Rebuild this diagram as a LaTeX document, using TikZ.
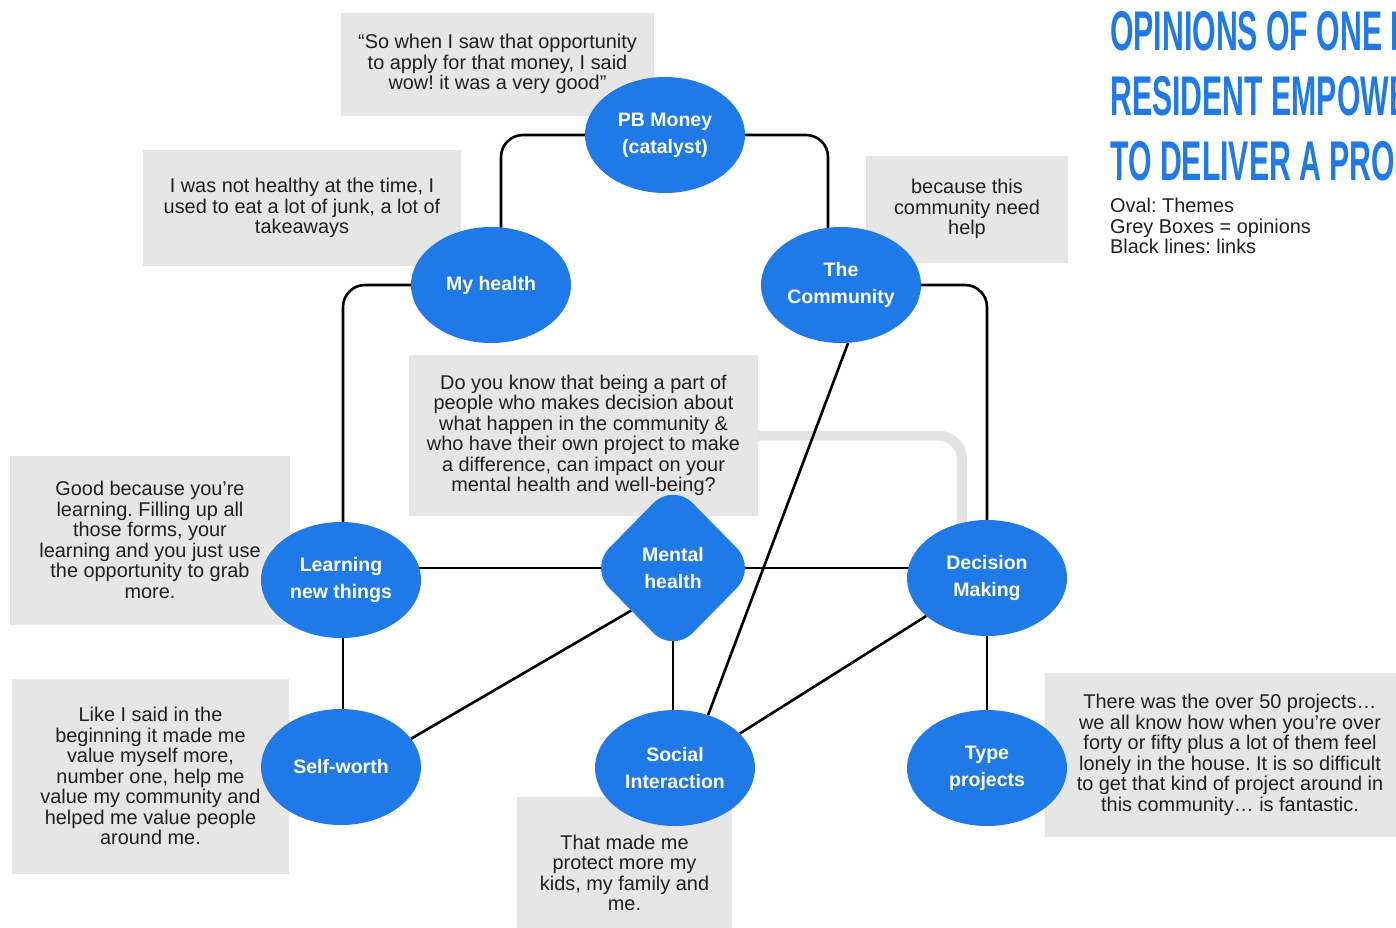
\documentclass[tikz,border=0pt]{standalone}
\usepackage{fontspec}
\setmainfont{Liberation Sans}
\newfontfamily\titlefont{Liberation Sans}[FakeStretch=0.54]
\usepackage{xcolor}
\usetikzlibrary{shapes.geometric}

\pgfdeclarelayer{background}
\pgfsetlayers{background,main}

\definecolor{themeblue}{RGB}{31,122,232}
\definecolor{boxgrey}{RGB}{230,230,230}
\definecolor{haloGrey}{RGB}{226,226,226}

\tikzset{
	theme/.style={ellipse, fill=themeblue, text=white, align=center, inner sep=0pt,
		minimum width=160pt, minimum height=116pt,
		font=\bfseries\fontsize{19.5}{27}\selectfont},
	opinion/.style={fill=boxgrey, text=black!88, align=center, inner sep=0pt,
		font=\fontsize{19.9}{20.5}\selectfont},
	link/.style={draw=black, line width=2.6pt, rounded corners=22pt},
	halo/.style={draw=haloGrey, line width=10pt, rounded corners=24pt}
}

\begin{document}
\frenchspacing
\begin{tikzpicture}[x=1pt,y=-1pt]
	\useasboundingbox (0,0) rectangle (1396,927);

	% opinions
	\node[opinion, minimum width=313pt, minimum height=103pt] (top_quote) at (497.5,64) {
		“So when I saw that opportunity\\ to apply for that money, I said\\ wow! it was a very good”
	};
	\node[opinion, minimum width=318pt, minimum height=116pt] (health_quote) at (302,208) {
		I was not healthy at the time, I\\ used to eat a lot of junk, a lot of\\ takeaways
	};
	\node[opinion, minimum width=202pt, minimum height=107pt] (community_quote) at (967,209) {
		because this\\ community need\\ help
	};
	\node[opinion, minimum width=349pt, minimum height=161pt] (mind_quote) at (583.5,435.5) {
		Do you know that being a part of\\ people who makes decision about\\ what happen in the community \&\\ who have their own project to make\\ a difference, can impact on your\\ mental health and well-being?
	};
	\node[opinion, minimum width=280pt, minimum height=169pt] (learning_quote) at (150,540) {
		Good because you’re\\ learning. Filling up all\\ those forms, your\\ learning and you just use\\ the opportunity to grab\\ more.
	};
	\node[opinion, minimum width=277pt, minimum height=195pt] (worth_quote) at (150.5,776) {
		Like I said in the\\ beginning it made me\\ value myself more,\\ number one, help me\\ value my community and\\ helped me value people\\ around me.
	};
	\node[opinion, minimum width=215pt, minimum height=152pt] (social_quote) at (624.5,873) {
		That made me\\ protect more my\\ kids, my family and\\ me.
	};
	\node[opinion, minimum width=370pt, minimum height=164pt] (type_quote) at (1230,755) {
		There was the over 50 projects…\\ we all know how when you’re over\\ forty or fifty plus a lot of them feel\\ lonely in the house. It is so difficult\\ to get that kind of project around in\\ this community… is fantastic.
	};

	% themes
	\node[theme] (pb_money) at (665,135) {PB Money\\ (catalyst)};
	\node[theme] (my_health) at (491,285) {My health};
	\node[theme] (community) at (841,285) {The\\ Community};
	\node[theme] (learning) at (341,580) {Learning\\ new things};
	\node[theme] (decision) at (987,578) {Decision\\ Making};
	\node[theme] (self_worth) at (341,767) {Self-worth};
	\node[theme] (social) at (675,768) {Social\\ Interaction};
	\node[theme] (type_projects) at (987,768) {Type\\ projects};
	\node[diamond, fill=themeblue, rounded corners=28pt, minimum width=167pt, minimum height=170pt,
		inner sep=0pt, text=white, align=center, font=\bfseries\fontsize{19.5}{27}\selectfont]
		(mental) at (673,568) {Mental\\ health};

	% links
	\begin{pgfonlayer}{background}
		\draw[halo] (mind_quote.east) -| ([xshift=-25pt]decision.center);
		\draw[link] (pb_money.west) -| ([xshift=10pt]my_health.center);
		\draw[link] (pb_money.east) -| ([xshift=-13pt]community.center);
		\draw[link] (my_health.west) -| ([xshift=2pt]learning.center);
		\draw[link] (community.east) -| (decision.center);
		\draw[link] (learning.center |- mental.center) -- (decision.center |- mental.center);
		\draw[link] ([xshift=2pt]learning.center) -- ([xshift=2pt]self_worth.center);
		\draw[link] (self_worth.22) -- (mental.south west);
		\draw[link] (mental.center) -- (mental.center |- social.center);
		\draw[link] (social.28) -- (decision.212);
		\draw[link] (social.58) -- (community.277);
		\draw[link] (decision.center) -- (type_projects.center);
	\end{pgfonlayer}

	% title and legend
	\begin{scope}
		\clip (0,0) rectangle (1396,927);
		\node[anchor=north west, inner sep=0pt, align=left, text=themeblue,
			font=\titlefont\bfseries\fontsize{56}{65}\selectfont] (title) at (1110,11)
			{OPINIONS OF ONE PB\\ RESIDENT EMPOWERED\\ TO DELIVER A PROJECT};
	\end{scope}
	\node[anchor=north west, inner sep=0pt, align=left, text=black!88,
		font=\fontsize{19.9}{20.5}\selectfont] (legend) at (1110,198)
		{Oval: Themes\\ Grey Boxes = opinions\\ Black lines: links};
\end{tikzpicture}
\end{document}
